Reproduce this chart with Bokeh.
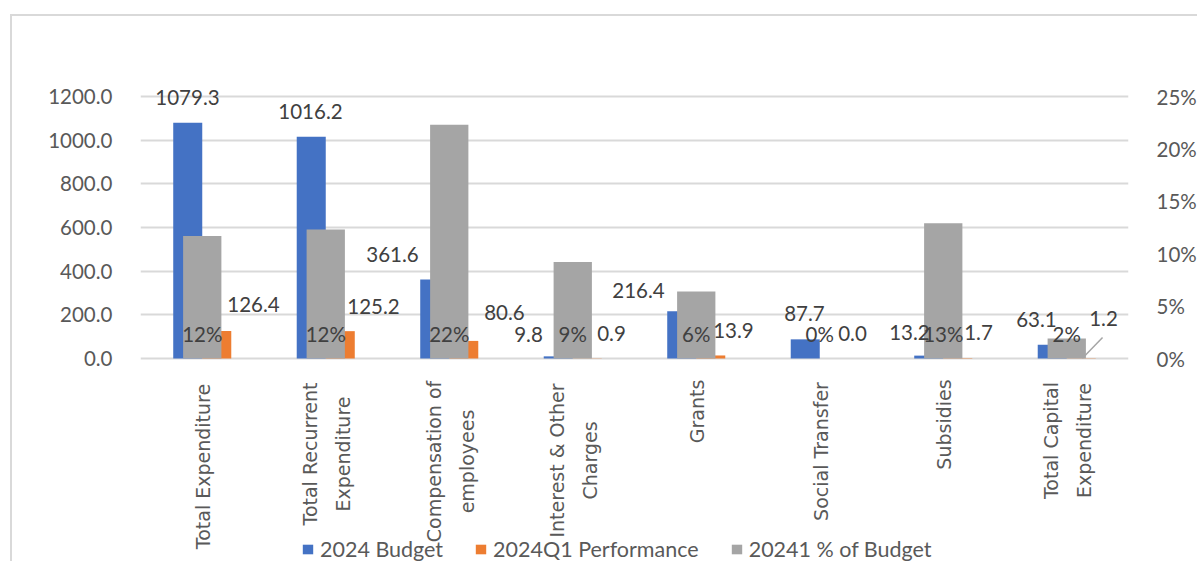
import math

from bokeh.core.properties import value
from bokeh.embed import file_html
from bokeh.models import (ColumnDataSource, FactorRange, FixedTicker, LabelSet,
                          Legend, LegendItem, LinearAxis, NumeralTickFormatter, Range1d)
from bokeh.plotting import figure
from bokeh.resources import INLINE
from bokeh.transform import dodge

# ---- data -------------------------------------------------------------
categories = [
    "Total Expenditure",
    "Total Recurrent\nExpenditure",
    "Compensation of\nemployees",
    "Interest & Other\nCharges",
    "Grants",
    "Social Transfer",
    "Subsidies",
    "Total Capital\nExpenditure",
]
budget_2024 = [1079.3, 1016.2, 361.6, 9.8, 216.4, 87.7, 13.2, 63.1]
q1_performance_2024 = [126.4, 125.2, 80.6, 0.9, 13.9, 0.0, 1.7, 1.2]
pct_of_budget = [0.117, 0.123, 0.223, 0.092, 0.064, 0.0, 0.129, 0.019]

left_ticks = [0, 200, 400, 600, 800, 1000, 1200]
right_ticks = [0, 0.05, 0.10, 0.15, 0.20, 0.25]

# ---- label placement (screen-pixel nudges from each anchor) -----------
budget_dx = [-14.75, -15.25, -56.75, -44.25, -57.75, -15.25, -33.75, -30.25]
budget_dy = [25.4, 25.1, 25.0, 22.0, 20.8, 25.9, 23.0, 25.0]
q1_dx = [51.25, 47.75, 55.25, 38.75, 37.25, 32.75, 35.25, 36.75]
q1_dy = [26.4, 24.7, 28.4, 24.8, 25.0, 25.0, 25.6, 39.7]
# centre of each category-name block, in pixels below the zero line
cat_label_dy = [108, 95.5, 103, 102, 53, 93, 66, 82]

BLUE = "#4472C4"
ORANGE = "#ED7D31"
GRAY = "#A5A5A5"
GRID = "#D9D9D9"
TEXT = "#404040"
AXIS_TEXT = "#595959"
NUM_FONT = "Lato"

# vertical layout: 1200 units span 262 px; frame reaches from 298 px above
# the zero line down to 203 px below it (room for the category names)
PX_PER_UNIT = 262 / 1200
ABOVE_ZERO = 298
BELOW_ZERO = 203
y_lo, y_hi = -BELOW_ZERO / PX_PER_UNIT, ABOVE_ZERO / PX_PER_UNIT
PCT_PER_UNIT = 0.25 / 1200

src = ColumnDataSource(dict(
    cat=categories,
    budget=budget_2024,
    q1=q1_performance_2024,
    pct=pct_of_budget,
    zero=[0] * len(categories),
    budget_txt=[f"{v:.1f}" for v in budget_2024],
    q1_txt=[f"{v:.1f}" for v in q1_performance_2024],
    pct_txt=[f"{round(v * 100):.0f}%" for v in pct_of_budget],
    b_dx=budget_dx, b_dy=budget_dy, q_dx=q1_dx, q_dy=q1_dy,
    cat_dy=cat_label_dy,
))

p = figure(
    x_range=FactorRange(*categories),
    y_range=Range1d(y_lo, y_hi),
    x_axis_location=None,
    frame_width=988, frame_height=ABOVE_ZERO + BELOW_ZERO,
    min_border_left=128, min_border_right=69,
    min_border_top=44, min_border_bottom=0,
    output_backend="svg", toolbar_location=None,
    outline_line_color=None,
    background_fill_color="white", border_fill_color="white",
)
p.margin = (14, 0, 0, 10)
p.styles = {"border-left": f"2px solid {GRID}", "border-top": f"2px solid {GRID}"}

p.extra_y_ranges = {"pct": Range1d(y_lo * PCT_PER_UNIT, y_hi * PCT_PER_UNIT)}

# ---- axes ---------------------------------------------------------------
p.yaxis.ticker = FixedTicker(ticks=left_ticks)
p.yaxis.formatter = NumeralTickFormatter(format="0.0")
right_axis = LinearAxis(
    y_range_name="pct",
    ticker=FixedTicker(ticks=right_ticks),
    formatter=NumeralTickFormatter(format="0%"),
)
p.add_layout(right_axis, "right")

for ax in (p.yaxis[0], right_axis):
    ax.axis_line_color = None
    ax.major_tick_line_color = None
    ax.minor_tick_line_color = None
    ax.major_label_standoff = 22
    ax.major_label_text_font = NUM_FONT
    ax.major_label_text_font_size = "20.5px"
    ax.major_label_text_color = AXIS_TEXT

p.xgrid.grid_line_color = None
p.ygrid.ticker = FixedTicker(ticks=left_ticks)
p.ygrid.grid_line_color = GRID
p.ygrid.grid_line_width = 2

# ---- bars ---------------------------------------------------------------
r_budget = p.vbar(x=dodge("cat", -0.1175, range=p.x_range), top="budget",
                  width=0.235, source=src, fill_color=BLUE, line_color=None)
r_q1 = p.vbar(x=dodge("cat", 0.1175, range=p.x_range), top="q1",
              width=0.235, source=src, fill_color=ORANGE, line_color=None)
r_pct = p.vbar(x="cat", top="pct", width=0.31, source=src, y_range_name="pct",
               fill_color=GRAY, line_color=None)

# leader line from the capital-expenditure Q1 label down to its bar
lead = ColumnDataSource(dict(cat=[categories[-1]], y0=[q1_performance_2024[-1]], y1=[96]))
p.segment(x0=dodge("cat", 0.127, range=p.x_range), y0="y0",
          x1=dodge("cat", 0.29, range=p.x_range), y1="y1",
          source=lead, line_color=GRAY, line_width=1.5)

# ---- category names (rotated, lines centred within each block) ----------
p.text(x="cat", y="zero", text="cat", source=src, angle=math.pi / 2,
       x_offset=1, y_offset="cat_dy",
       text_align="center", text_baseline="middle", text_line_height=1.5,
       text_font=value("DejaVu Sans"), text_font_size="19px", text_color=AXIS_TEXT)

# ---- data labels ----------------------------------------------------------
label_style = dict(text_align="center", text_baseline="middle",
                   text_font=value(NUM_FONT), text_font_size="20.5px", text_color=TEXT)
p.add_layout(LabelSet(x="cat", y="budget", text="budget_txt", x_offset="b_dx",
                      y_offset="b_dy", source=src, **label_style))
p.add_layout(LabelSet(x="cat", y="q1", text="q1_txt", x_offset="q_dx",
                      y_offset="q_dy", source=src, **label_style))
p.add_layout(LabelSet(x="cat", y="zero", text="pct_txt", y_range_name="pct",
                      y_offset=25, source=src, **label_style))

# ---- legend -----------------------------------------------------------------
legend = Legend(
    items=[
        LegendItem(label="2024 Budget", renderers=[r_budget]),
        LegendItem(label="2024Q1 Performance", renderers=[r_q1]),
        LegendItem(label="20241 % of Budget", renderers=[r_pct]),
    ],
    orientation="horizontal",
    location=(161, -1),
    glyph_width=13, glyph_height=12,
    label_standoff=6, spacing=31, padding=0, margin=0,
    label_height=20,
    label_text_font=NUM_FONT, label_text_font_size="21.5px",
    label_text_color=AXIS_TEXT,
    border_line_color=None, background_fill_alpha=0,
)
p.add_layout(legend, "center")

open("out.html", "w").write(file_html(p, INLINE))
